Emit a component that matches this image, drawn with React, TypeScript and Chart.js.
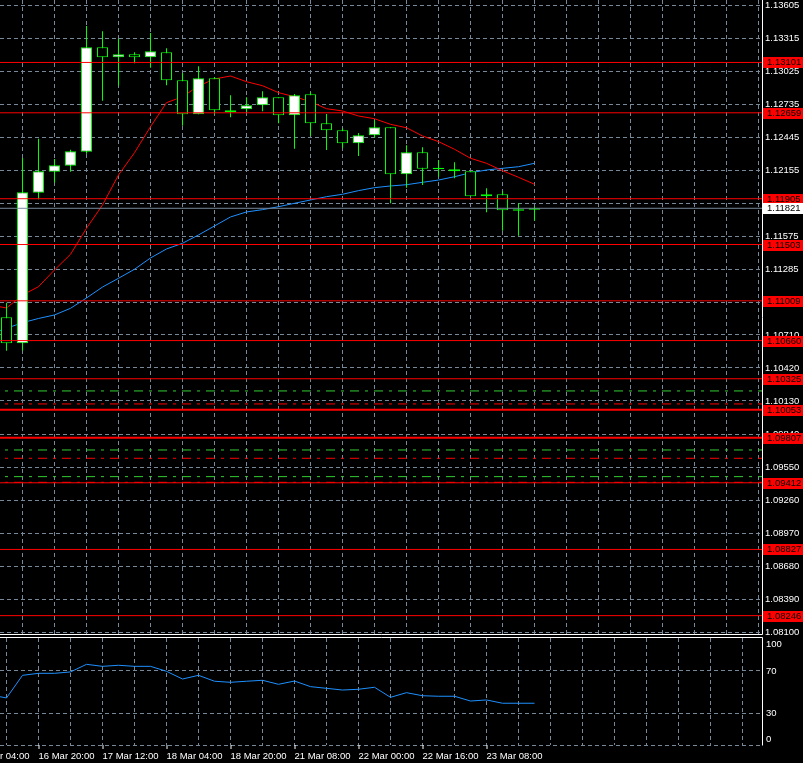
import React, { useEffect, useRef } from "react";
import Chart from "chart.js/auto";

// ---- data ----
const OPEN = [1.10864,1.10636,1.11958,1.12142,1.12195,1.12318,1.13234,1.13146,1.13172,1.13146,1.13190,1.12944,1.12646,1.12962,1.12664,1.12690,1.12725,1.12795,1.12637,1.12821,1.12567,1.12506,1.12391,1.12462,1.12532,1.12119,1.12313,1.12163,1.12163,1.12146,1.11926,1.11944,1.11812,1.11809];
const HIGH = [1.10993,1.12262,1.12432,1.12254,1.12335,1.13421,1.13374,1.13309,1.13190,1.13359,1.13225,1.13008,1.13067,1.12971,1.12813,1.12795,1.12848,1.12795,1.12824,1.12839,1.12649,1.12523,1.12482,1.12593,1.12532,1.12374,1.12356,1.12245,1.12225,1.12146,1.11997,1.11970,1.11865,1.11835];
const LOW = [1.10571,1.10571,1.11900,1.12046,1.12142,1.12300,1.12765,1.12897,1.13094,1.13055,1.12900,1.12546,1.12646,1.12646,1.12620,1.12664,1.12672,1.12567,1.12344,1.12458,1.12333,1.12353,1.12280,1.12441,1.11865,1.12002,1.12026,1.12098,1.12084,1.11926,1.11786,1.11624,1.11581,1.11712];
const CLOSE = [1.10636,1.11961,1.12146,1.12198,1.12321,1.13234,1.13146,1.13172,1.13146,1.13199,1.12944,1.12646,1.12962,1.12681,1.12681,1.12725,1.12795,1.12637,1.12813,1.12567,1.12506,1.12391,1.12462,1.12532,1.12119,1.12313,1.12169,1.12177,1.12146,1.11926,1.11944,1.11804,1.11800,1.11821];

// line series start one bar before the first visible candle
const SERIES_START = -1;
const MA_FAST = [1.10972,1.10946,1.11060,1.11133,1.11280,1.11417,1.11646,1.11850,1.12113,1.12309,1.12537,1.12748,1.12800,1.12894,1.12956,1.12982,1.12932,1.12897,1.12836,1.12800,1.12757,1.12695,1.12675,1.12631,1.12607,1.12558,1.12528,1.12456,1.12406,1.12339,1.12260,1.12216,1.12151,1.12093,1.12032];
const MA_SLOW = [1.10718,1.10768,1.10817,1.10854,1.10885,1.10943,1.11034,1.11130,1.11207,1.11286,1.11385,1.11464,1.11514,1.11587,1.11666,1.11745,1.11789,1.11809,1.11835,1.11865,1.11894,1.11923,1.11944,1.11976,1.12002,1.12017,1.12028,1.12049,1.12069,1.12098,1.12133,1.12157,1.12172,1.12186,1.12216];
const OSC = [47.3,44.5,65.9,67.8,67.8,69.1,76.3,74.4,75.4,74.4,74.4,69.7,62.4,65.9,60.3,59.3,60.3,61.2,57.4,60.5,55.2,53.6,52.0,52.7,54.6,45.1,49.5,46.6,46.1,46.1,41.6,42.6,39.5,39.5,39.5];

const PRICE_TICKS = ["1.13605","1.13315","1.13025","1.12735","1.12445","1.12155","1.11865","1.11575","1.11285","1.10995","1.10710","1.10420","1.10130","1.09840","1.09550","1.09260","1.08970","1.08680","1.08390","1.08100"];
const LEVELS = [1.13101,1.12659,1.11905,1.11503,1.11009,1.10660,1.10325,1.10053,1.09807,1.09412,1.08827,1.08246];
const THICK_LEVELS = [1.10053,1.09807];
const CURRENT_PRICE = 1.11821;
const GREEN_DASH_LEVELS = [1.10218,1.09700,1.09466];
const RED_DASH_LEVELS = [1.10104,1.09627,1.09416];
const DASH_START_BAR = -0.09375;

const OSC_TICKS = [100,70,30,0];
const TIME_INDEX = [-2,2,6,10,14,18,22,26,30];
const TIME_TEXT = ["16 Mar 04:00","16 Mar 20:00","17 Mar 12:00","18 Mar 04:00","18 Mar 20:00","21 Mar 08:00","22 Mar 00:00","22 Mar 16:00","23 Mar 08:00"];

// ---- geometry / styles ----
const W = 803;
const MAIN_H = 636;
const SUB_H = 127;
const AXIS_W = 41;
const BAR_PX = 16;
const FIRST_BAR_X = 6.5;
const X_MIN = -FIRST_BAR_X / BAR_PX;
const X_MAX = X_MIN + (W - AXIS_W) / BAR_PX;
const Y_MAX = 1.13649;
const Y_MIN = 1.08085;
const OSC_MAX = 101.2;
const GRID = "#778899";
const GREEN = "#00ff00";
const FONT_SIZE = 9.5;
const FONT = `${FONT_SIZE}px "Liberation Sans"`;

const gridIdx: number[] = [];
for (let v = 0; v <= X_MAX; v += 2) gridIdx.push(v);

function zeroPad(s: any) {
  s.paddingTop = 0; s.paddingBottom = 0; s.paddingLeft = 0; s.paddingRight = 0;
}

function xScale(): any {
  return {
    type: "linear",
    min: X_MIN,
    max: X_MAX,
    offset: false,
    afterBuildTicks: (s: any) => { s.ticks = gridIdx.map((v) => ({ value: v })); },
    ticks: { display: false, autoSkip: false },
    grid: { color: GRID, lineWidth: 1, drawTicks: false },
    border: { display: false, dash: [4, 3] },
    afterFit: (s: any) => { s.height = 0; zeroPad(s); },
  };
}

function hLine(v: number, color: string, width: number, dash: number[] | undefined, start: number) {
  return {
    type: "line",
    data: [{ x: start, y: v }, { x: X_MAX, y: v }],
    borderColor: color,
    borderWidth: width,
    borderDash: dash || [],
    pointRadius: 0,
    tension: 0,
    order: 0,
  };
}

const mainPlugin = {
  id: "mainDecor",
  afterDraw(chart: any) {
    const { ctx, chartArea, scales } = chart;
    const { right, bottom } = chartArea;
    const y = scales.y;
    ctx.save();
    ctx.strokeStyle = "#ffffff";
    ctx.lineWidth = 1;
    ctx.beginPath();
    ctx.moveTo(right + 0.5, 0);
    ctx.lineTo(right + 0.5, bottom + 0.5);
    ctx.lineTo(0, bottom + 0.5);
    ctx.stroke();
    ctx.font = FONT;
    ctx.textBaseline = "middle";
    ctx.textAlign = "left";
    const box = (v: number, bg: string, fg: string) => {
      const py = Math.round(y.getPixelForValue(v));
      ctx.fillStyle = bg;
      ctx.fillRect(right + 1, py - 5, W - right - 1, 11);
      ctx.fillStyle = fg;
      ctx.fillText(v.toFixed(5), right + 5, py + 0.5);
    };
    LEVELS.forEach((v) => box(v, "#ff0000", "#000000"));
    box(CURRENT_PRICE, "#ffffff", "#000000");
    ctx.restore();
  },
};

const subPlugin = {
  id: "subDecor",
  afterDraw(chart: any) {
    const { ctx, chartArea, scales } = chart;
    const { top, right, bottom } = chartArea;
    ctx.save();
    ctx.strokeStyle = "#ffffff";
    ctx.lineWidth = 1;
    ctx.beginPath();
    ctx.moveTo(0, top - 0.5);
    ctx.lineTo(right + 0.5, top - 0.5);
    ctx.lineTo(right + 0.5, bottom + 0.5);
    ctx.stroke();
    ctx.font = FONT;
    ctx.textBaseline = "middle";
    ctx.textAlign = "left";
    ctx.fillStyle = "#ffffff";
    OSC_TICKS.forEach((v) => {
      let py = scales.y.getPixelForValue(v);
      py = Math.max(top + 6.5, Math.min(bottom - 6, py));
      ctx.fillText(String(v), right + 4, py);
    });
    TIME_INDEX.forEach((idx, k) => {
      const px = Math.round(scales.x.getPixelForValue(idx)) - 0.5;
      ctx.beginPath();
      ctx.moveTo(px + 0.5, bottom);
      ctx.lineTo(px + 0.5, bottom + 4);
      ctx.stroke();
      ctx.fillText(TIME_TEXT[k], px, bottom + 11);
    });
    ctx.restore();
  },
};

export default function App() {
  const mainRef = useRef<HTMLCanvasElement>(null);
  const subRef = useRef<HTMLCanvasElement>(null);

  useEffect(() => {
    Chart.defaults.font.family = "Liberation Sans";
    Chart.defaults.font.size = FONT_SIZE;

    const common: any = {
      responsive: false,
      animation: false,
      devicePixelRatio: 1,
      events: [],
      plugins: { legend: { display: false }, tooltip: { enabled: false } },
    };

    const datasetsMain: any[] = [
      {
        type: "line",
        data: MA_FAST.map((v, k) => ({ x: k + SERIES_START, y: v })),
        borderColor: "#ff0000",
        borderWidth: 1,
        pointRadius: 0,
        tension: 0,
        order: 3,
      },
      {
        type: "line",
        data: MA_SLOW.map((v, k) => ({ x: k + SERIES_START, y: v })),
        borderColor: "#1e90ff",
        borderWidth: 1,
        pointRadius: 0,
        tension: 0,
        order: 3,
      },
      {
        type: "bar",
        data: LOW.map((l, i) => ({ x: i, y: [l, HIGH[i]] })),
        backgroundColor: GREEN,
        borderWidth: 0,
        barThickness: 1,
        grouped: false,
        inflateAmount: 0,
        order: 2,
      },
      {
        type: "bar",
        data: OPEN.map((o, i) => ({ x: i, y: [o, CLOSE[i]] })),
        backgroundColor: OPEN.map((o, i) => (CLOSE[i] >= o ? "#ffffff" : "#000000")),
        borderColor: GREEN,
        borderWidth: 1,
        borderSkipped: false,
        barThickness: 11,
        grouped: false,
        inflateAmount: 0,
        order: 1,
      },
      ...GREEN_DASH_LEVELS.map((v) => hLine(v, "#32cd32", 1, [3, 6, 9, 6], DASH_START_BAR)),
      ...RED_DASH_LEVELS.map((v) => hLine(v, "#ff0000", 1, [3, 6, 9, 6], DASH_START_BAR)),
      ...LEVELS.map((v) => hLine(v, "#ff0000", THICK_LEVELS.includes(v) ? 2 : 1, undefined, X_MIN)),
      hLine(CURRENT_PRICE, GRID, 1, undefined, X_MIN),
    ];

    const c1 = new Chart(mainRef.current as HTMLCanvasElement, {
      type: "line",
      data: { datasets: datasetsMain },
      options: {
        ...common,
        layout: { padding: { top: 0, left: 0, right: 0, bottom: 2 } },
        scales: {
          x: xScale(),
          y: {
            type: "linear",
            position: "right",
            min: Y_MIN,
            max: Y_MAX,
            afterBuildTicks: (s: any) => { s.ticks = PRICE_TICKS.map((t) => ({ value: Number(t) })); },
            ticks: {
              color: "#ffffff",
              font: { family: "Liberation Sans", size: FONT_SIZE },
              padding: 3,
              autoSkip: false,
              callback: (_v: any, i: number) => PRICE_TICKS[i],
            },
            grid: { color: GRID, lineWidth: 1, drawTicks: false },
            border: { display: false, dash: [4, 3] },
            afterFit: (s: any) => { s.width = AXIS_W; zeroPad(s); },
          },
        },
      } as any,
      plugins: [mainPlugin],
    } as any);

    const c2 = new Chart(subRef.current as HTMLCanvasElement, {
      type: "line",
      data: {
        datasets: [
          {
            type: "line",
            data: OSC.map((v, k) => ({ x: k + SERIES_START, y: v })),
            borderColor: "#1e90ff",
            borderWidth: 1,
            pointRadius: 0,
            tension: 0,
          },
        ],
      },
      options: {
        ...common,
        layout: { padding: { top: 2, left: 0, right: 0, bottom: 18 } },
        scales: {
          x: xScale(),
          y: {
            type: "linear",
            position: "right",
            min: 0,
            max: OSC_MAX,
            afterBuildTicks: (s: any) => { s.ticks = OSC_TICKS.map((v) => ({ value: v })); },
            ticks: { display: false, autoSkip: false },
            grid: {
              color: (c: any) => (c.tick && c.tick.value === 100 ? "rgba(0,0,0,0)" : GRID),
              lineWidth: 1,
              drawTicks: false,
            },
            border: { display: false, dash: [4, 3] },
            afterFit: (s: any) => { s.width = AXIS_W; zeroPad(s); },
          },
        },
      } as any,
      plugins: [subPlugin],
    } as any);

    return () => {
      c1.destroy();
      c2.destroy();
    };
  }, []);

  return (
    <div style={{ position: "fixed", left: 0, top: 0, width: W, height: MAIN_H + SUB_H, background: "#000", overflow: "hidden" }}>
      <canvas ref={mainRef} width={W} height={MAIN_H} style={{ position: "absolute", left: 0, top: 0, width: W, height: MAIN_H }} />
      <canvas ref={subRef} width={W} height={SUB_H} style={{ position: "absolute", left: 0, top: MAIN_H, width: W, height: SUB_H }} />
    </div>
  );
}
